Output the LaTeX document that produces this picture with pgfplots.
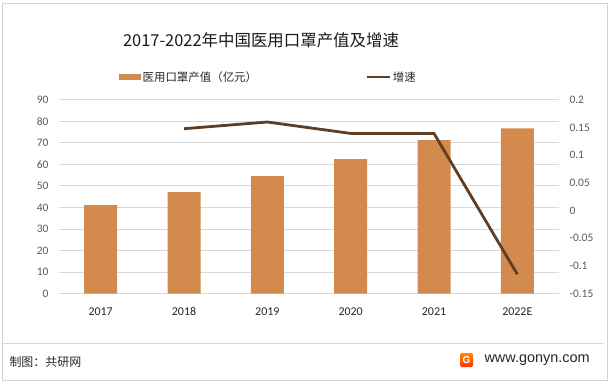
\documentclass[border=0pt]{standalone}
\usepackage{pgfplots}
\pgfplotsset{compat=1.18}
\usepackage{fontspec}
\setmainfont{Carlito}
\newfontfamily\cjk{Noto Sans CJK SC}
\newfontfamily\lsans{Liberation Sans}
\definecolor{barc}{RGB}{211,139,77}
\definecolor{linec}{RGB}{94,62,36}
\definecolor{gridc}{RGB}{217,217,217}
\definecolor{tickc}{RGB}{89,89,89}
\begin{document}
\begin{tikzpicture}[x=1bp,y=1bp]
\path[use as bounding box] (0,0) rectangle (613,383);
\draw[gray!35, line width=0.8bp] (2.5,3) rectangle (607,380);
\node[font=\cjk\fontsize{16.5}{20}\selectfont, text=black!90] at (261,343) {2017-2022年中国医用口罩产值及增速};
\begin{axis}[at={(59bp,89.3bp)}, anchor=south west, scale only axis,
  width=500bp, height=194.1bp,
  xmin=-0.5, xmax=5.5, ymin=0, ymax=90,
  ytick={0,10,...,90}, xtick={0,...,5},
  xticklabels={2017,2018,2019,2020,2021,2022E},
  axis line style={draw=none}, major tick length=0,
  ymajorgrids, grid style={gridc, line width=0.8bp},
  ticklabel style={font=\fontsize{11.5}{13}\selectfont, text=tickc},
  xticklabel style={font=\fontsize{12}{14}\selectfont, text=black!85, anchor=base, yshift=-22bp},
  yticklabel style={xshift=-7bp},
  /pgf/number format/assume math mode=true,
  ybar, bar width=33bp]
\addplot[fill=barc, draw=none] coordinates {(0,41.1) (1,47.1) (2,54.5) (3,62.4) (4,71.2) (5,76.7)};
\end{axis}
\begin{axis}[at={(59bp,89.3bp)}, anchor=south west, scale only axis,
  width=500bp, height=194.1bp,
  xmin=-0.5, xmax=5.5, ymin=-0.15, ymax=0.2,
  axis y line*=right, hide x axis,
  axis line style={draw=none}, major tick length=0,
  ytick={-0.15,-0.1,-0.05,0,0.05,0.1,0.15,0.2},
  yticklabels={-0.15,-0.1,-0.05,0,0.05,0.1,0.15,0.2},
  ticklabel style={font=\fontsize{11.5}{13}\selectfont, text=tickc},
  yticklabel style={xshift=7bp},
  /pgf/number format/assume math mode=true,
  legend columns=2,
  legend style={at={(0.12,1.116)}, anchor=west, draw=none, fill=none, inner sep=0pt,
    font=\cjk\fontsize{11.5}{13}\selectfont, text=black!85,
    /tikz/every even column/.append style={column sep=106bp}},
  legend cell align=left]
\addlegendimage{legend image code/.code={\fill[barc] (0bp,-2.6bp) rectangle (21bp,2.6bp);}}
\addlegendentry{医用口罩产值（亿元）}
\addplot[linec, line width=2.8bp, legend image code/.code={\draw[linec, line width=2.8bp] (0bp,0bp) -- (23bp,0bp);}] coordinates {(1,0.1475) (2,0.1596) (3,0.139) (4,0.139) (5,-0.115)};
\addlegendentry{增速}
\end{axis}
\draw[gray!30, line width=0.8bp] (3,40) -- (604,40);
\node[anchor=west, font=\cjk\fontsize{12}{14}\selectfont, text=black!85] at (6,21) {制图：共研网};
\shade[top color=orange!90!yellow, bottom color=red!60!orange, rounded corners=1.5bp] (460,16) rectangle (473,30);
\node[font=\lsans\bfseries\fontsize{10}{12}\selectfont, text=white] at (466.5,23) {G};
\node[anchor=west, font=\lsans\fontsize{14.5}{16}\selectfont, text=black!85] at (481,23) {www.gonyn.com};
\end{tikzpicture}
\end{document}
